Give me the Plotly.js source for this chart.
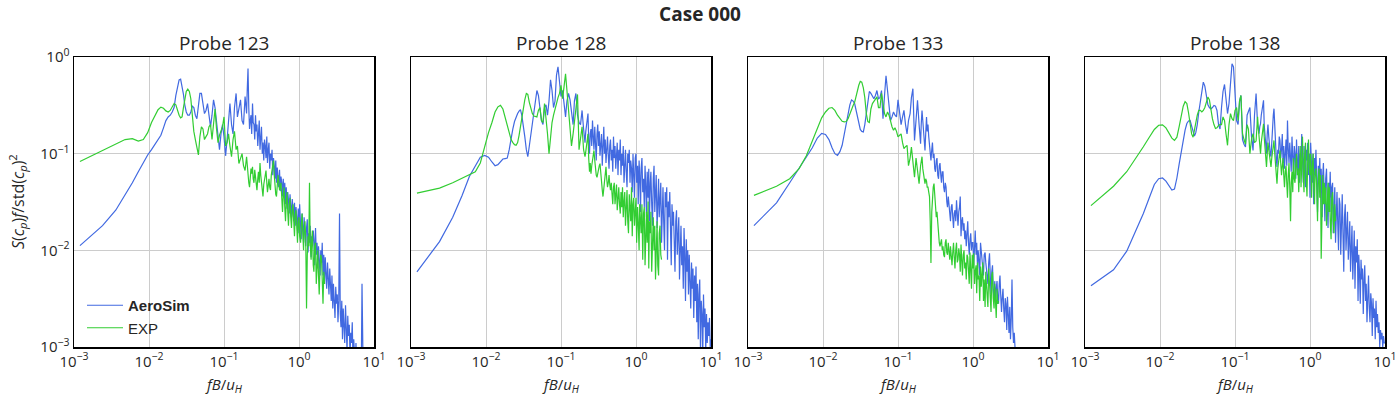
<!DOCTYPE html>
<html>
<head>
<meta charset="utf-8">
<script src="https://cdn.plot.ly/plotly-3.0.1.min.js"></script>
<style>html,body{margin:0;padding:0;background:#fff;}#chart{width:1400px;height:400px;}</style>
</head>
<body>
<div id="chart"></div>
<script>
// ---- data ----
const figTitle = 'Case 000';
const probeNames = ['Probe 123', 'Probe 128', 'Probe 133', 'Probe 138'];
const seriesNames = ['AeroSim', 'EXP'];
const xTickVals = [0.001, 0.01, 0.1, 1, 10];
const xTickText = ['10<sup>−3</sup>', '10<sup>−2</sup>', '10<sup>−1</sup>', '10<sup>0</sup>', '10<sup>1</sup>'];
const yTickVals = [0.001, 0.01, 0.1, 1];
const yTickText = ['10<sup>−3</sup>', '10<sup>−2</sup>', '10<sup>−1</sup>', '10<sup>0</sup>'];

// reduced frequency fB/u_H (shared by all probes)
const freq = [
  0.0012, 0.0024, 0.0036, 0.0048, 0.006, 0.0072, 0.0084, 0.0096, 0.0108, 0.012,
  0.0132, 0.0144, 0.0156, 0.0168, 0.018, 0.0192, 0.0204, 0.0216, 0.0228, 0.024,
  0.0252, 0.0264, 0.0276, 0.0288, 0.03, 0.0314, 0.0329, 0.0345, 0.0361, 0.0378,
  0.0396, 0.0415, 0.0435, 0.0456, 0.0477, 0.05, 0.0524, 0.0549, 0.0575, 0.0603,
  0.0631, 0.0661, 0.0692, 0.0725, 0.0759, 0.0795, 0.0832, 0.0871, 0.0912, 0.0955,
  0.1, 0.105, 0.11, 0.115, 0.12, 0.126, 0.132, 0.138, 0.145, 0.151,
  0.158, 0.166, 0.174, 0.182, 0.191,
  0.2, 0.204, 0.209, 0.214, 0.219, 0.224, 0.229, 0.234, 0.24, 0.245,
  0.251, 0.257, 0.263, 0.269, 0.275, 0.282, 0.288, 0.295, 0.302, 0.309,
  0.316, 0.324, 0.331, 0.339, 0.347, 0.355, 0.363, 0.372, 0.38, 0.389,
  0.398, 0.407, 0.417, 0.427, 0.437, 0.447, 0.457, 0.468, 0.479, 0.49,
  0.501, 0.513, 0.525, 0.537, 0.55, 0.562, 0.575, 0.589, 0.603, 0.617,
  0.631, 0.646, 0.661, 0.676, 0.692, 0.708, 0.724, 0.741, 0.759, 0.776,
  0.794, 0.813, 0.832, 0.851, 0.871, 0.891, 0.912, 0.933, 0.955, 0.977,
  1.0, 1.02, 1.05, 1.07, 1.1, 1.12, 1.15, 1.17, 1.2, 1.23,
  1.26, 1.29, 1.32, 1.35, 1.38, 1.41, 1.45, 1.48, 1.51, 1.55,
  1.58, 1.62, 1.66, 1.7, 1.74, 1.78, 1.82, 1.86, 1.91, 1.95,
  2.0, 2.04, 2.09, 2.14, 2.19, 2.24, 2.29, 2.34, 2.4, 2.45,
  2.51, 2.57, 2.63, 2.69, 2.75, 2.82, 2.88, 2.95, 3.02, 3.09,
  3.16, 3.24, 3.31, 3.39, 3.47, 3.55, 3.63, 3.72, 3.8, 3.89,
  3.98, 4.07, 4.17, 4.27, 4.37, 4.47, 4.57, 4.68, 4.79, 4.9,
  5.01, 5.13, 5.25, 5.37, 5.5, 5.62, 5.75, 5.89, 6.03, 6.17,
  6.31, 6.46, 6.61, 6.76, 6.92, 7.08, 7.24, 7.41, 7.59, 7.76,
  7.94, 8.13, 8.32, 8.51, 8.71, 8.91, 9.12, 9.33, 9.55, 9.77,
  10.0
];

// AeroSim spectra S(cp)f/std(cp)^2
const sim123 = [
  0.0112, 0.018, 0.026, 0.037, 0.05, 0.065, 0.082, 0.097, 0.11, 0.125,
  0.138, 0.155, 0.185, 0.22, 0.24, 0.25, 0.27, 0.3, 0.4, 0.5,
  0.58, 0.59, 0.5, 0.41, 0.32, 0.27, 0.25, 0.25, 0.27, 0.31,
  0.3, 0.25, 0.23, 0.3, 0.42, 0.42, 0.33, 0.26, 0.28, 0.33,
  0.25, 0.19, 0.25, 0.36, 0.3, 0.2, 0.15, 0.11, 0.16, 0.2,
  0.15, 0.095, 0.14, 0.24, 0.33, 0.2, 0.16, 0.3, 0.42, 0.24,
  0.3, 0.36, 0.22, 0.2, 0.39,
  0.26, 0.45, 0.76, 0.3, 0.18, 0.22, 0.25, 0.16, 0.33, 0.21,
  0.2, 0.14, 0.25, 0.17, 0.2, 0.12, 0.16, 0.22, 0.11, 0.15,
  0.19, 0.1, 0.13, 0.085, 0.14, 0.12, 0.09, 0.15, 0.08, 0.11,
  0.13, 0.07, 0.1, 0.085, 0.11, 0.06, 0.09, 0.075, 0.055, 0.085,
  0.05, 0.072, 0.06, 0.045, 0.068, 0.041, 0.058, 0.05, 0.036, 0.055,
  0.035, 0.05, 0.03, 0.045, 0.027, 0.04, 0.033, 0.024, 0.038, 0.028,
  0.022, 0.034, 0.026, 0.02, 0.031, 0.018, 0.028, 0.022, 0.016, 0.027,
  0.015, 0.03, 0.02, 0.013, 0.024, 0.018, 0.012, 0.022, 0.016, 0.011,
  0.017, 0.021, 0.0095, 0.015, 0.012, 0.018, 0.0085, 0.014, 0.011, 0.016,
  0.013, 0.007, 0.017, 0.009, 0.012, 0.0065, 0.011, 0.008, 0.0055, 0.01,
  0.0075, 0.012, 0.0055, 0.009, 0.0045, 0.0085, 0.0065, 0.004, 0.0075, 0.005,
  0.0035, 0.0065, 0.0045, 0.003, 0.0055, 0.0025, 0.0045, 0.0032, 0.002, 0.0042,
  0.0028, 0.0035, 0.0018, 0.003, 0.024, 0.0022, 0.0016, 0.003, 0.0012, 0.0025,
  0.0019, 0.0011, 0.0027, 0.0015, 0.0009, 0.0021, 0.0013, 0.0017, 0.0008, 0.0014,
  0.0011, 0.0018, 0.0007, 0.0012, 0.0009, 0.0006, 0.0011, 0.0005, 0.0009, 0.0004,
  0.0007, 0.0004, 0.0008, 0.0005, 0.0045, 0.0004, 0.0003, 0.0004, 0.0003, 0.0002,
  0.0003, 0.0002, 0.0002, 0.0003, 0.0002, 0.0002, 0.0002, 0.0002, 0.0002, 0.0002,
  0.0002
];
const sim128 = [
  0.006, 0.0123, 0.022, 0.037, 0.058, 0.076, 0.092, 0.096, 0.092, 0.082,
  0.075, 0.077, 0.082, 0.088, 0.089, 0.09, 0.11, 0.145, 0.18, 0.215,
  0.24, 0.26, 0.275, 0.285, 0.25, 0.2, 0.15, 0.11, 0.093, 0.12,
  0.16, 0.22, 0.29, 0.38, 0.45, 0.4, 0.27, 0.22, 0.2, 0.3,
  0.32, 0.25, 0.35, 0.58, 0.45, 0.3, 0.35, 0.65, 0.79, 0.5,
  0.39, 0.45, 0.33, 0.24, 0.35, 0.42, 0.36, 0.26, 0.2, 0.35,
  0.42, 0.25, 0.21, 0.2, 0.28,
  0.18, 0.15, 0.13, 0.17, 0.2, 0.24, 0.26, 0.14, 0.1, 0.16,
  0.18, 0.12, 0.22, 0.15, 0.11, 0.19, 0.14, 0.085, 0.16, 0.2,
  0.12, 0.17, 0.095, 0.13, 0.16, 0.075, 0.12, 0.19, 0.1, 0.14,
  0.08, 0.13, 0.15, 0.095, 0.07, 0.12, 0.14, 0.085, 0.11, 0.065,
  0.15, 0.09, 0.12, 0.07, 0.1, 0.13, 0.06, 0.11, 0.085, 0.14,
  0.06, 0.1, 0.075, 0.12, 0.05, 0.09, 0.11, 0.065, 0.045, 0.1,
  0.08, 0.11, 0.05, 0.085, 0.07, 0.04, 0.1, 0.06, 0.035, 0.09,
  0.1, 0.05, 0.075, 0.03, 0.085, 0.06, 0.025, 0.07, 0.09, 0.04,
  0.055, 0.028, 0.075, 0.045, 0.022, 0.065, 0.035, 0.07, 0.02, 0.05,
  0.065, 0.03, 0.018, 0.055, 0.075, 0.025, 0.045, 0.06, 0.017, 0.04,
  0.055, 0.022, 0.035, 0.05, 0.012, 0.03, 0.045, 0.02, 0.01, 0.04,
  0.028, 0.045, 0.008, 0.032, 0.022, 0.04, 0.012, 0.007, 0.03, 0.018,
  0.025, 0.01, 0.006, 0.02, 0.026, 0.009, 0.015, 0.022, 0.005, 0.014,
  0.018, 0.007, 0.011, 0.004, 0.017, 0.009, 0.003, 0.013, 0.006, 0.01,
  0.0035, 0.009, 0.005, 0.0025, 0.0075, 0.004, 0.0065, 0.002, 0.0055, 0.003,
  0.0068, 0.0018, 0.0045, 0.0012, 0.0035, 0.005, 0.0009, 0.003, 0.0022, 0.0008,
  0.0035, 0.0016, 0.0025, 0.0009, 0.0022, 0.0011, 0.0018, 0.0013, 0.002, 0.001,
  0.0012
];
const sim133 = [
  0.018, 0.031, 0.05, 0.07, 0.09, 0.115, 0.145, 0.162, 0.158, 0.14,
  0.115, 0.1, 0.096, 0.105, 0.122, 0.16, 0.21, 0.27, 0.32, 0.36,
  0.35, 0.33, 0.28, 0.24, 0.2, 0.178, 0.17, 0.168, 0.2, 0.27,
  0.36, 0.44, 0.42, 0.39, 0.37, 0.4, 0.45, 0.37, 0.38, 0.45,
  0.23, 0.4, 0.64, 0.45, 0.3, 0.22, 0.24, 0.27, 0.25, 0.24,
  0.36, 0.25, 0.2, 0.24, 0.28, 0.2, 0.16, 0.22, 0.26, 0.38,
  0.47, 0.137, 0.25, 0.356, 0.2,
  0.127, 0.2, 0.28, 0.22, 0.18, 0.13, 0.108, 0.16, 0.24, 0.17,
  0.2, 0.15, 0.12, 0.095, 0.085, 0.11, 0.13, 0.09, 0.1, 0.07,
  0.065, 0.085, 0.09, 0.06, 0.055, 0.075, 0.08, 0.06, 0.05, 0.065,
  0.065, 0.045, 0.04, 0.05, 0.045, 0.032, 0.028, 0.036, 0.03, 0.024,
  0.02, 0.028, 0.03, 0.022, 0.017, 0.024, 0.026, 0.02, 0.033, 0.024,
  0.018, 0.025, 0.028, 0.036, 0.014, 0.02, 0.022, 0.016, 0.019, 0.013,
  0.016, 0.011, 0.014, 0.02, 0.012, 0.009, 0.013, 0.015, 0.01, 0.012,
  0.012, 0.007, 0.011, 0.016, 0.009, 0.012, 0.0065, 0.01, 0.008, 0.0055,
  0.012, 0.0085, 0.008, 0.0065, 0.0055, 0.009, 0.0095, 0.0075, 0.006, 0.0045,
  0.0045, 0.0075, 0.0093, 0.0055, 0.0035, 0.006, 0.007, 0.004, 0.003, 0.0048,
  0.003, 0.004, 0.0048, 0.0032, 0.0028, 0.0045, 0.0055, 0.0035, 0.0023, 0.0032,
  0.004, 0.0025, 0.0018, 0.0032, 0.0028, 0.0015, 0.0033, 0.0022, 0.0014, 0.0026,
  0.0012, 0.002, 0.005, 0.0016, 0.0011, 0.0014, 0.0008, 0.0007, 0.0005, 0.0006,
  0.0005, 0.0004, 0.0006, 0.0003, 0.0004, 0.0003, 0.0003, 0.0002, 0.0003, 0.0002,
  0.0002, 0.0002, 0.0002, 0.0002, 0.0002, 0.0002, 0.0002, 0.0002, 0.0002, 0.0002,
  0.0002, 0.0002, 0.0002, 0.0002, 0.0002, 0.0002, 0.0002, 0.0002, 0.0002, 0.0002,
  0.0002, 0.0002, 0.0002, 0.0002, 0.0002, 0.0002, 0.0002, 0.0002, 0.0002, 0.0002,
  0.0002
];
const sim138 = [
  0.0043, 0.0063, 0.0098, 0.016, 0.024, 0.035, 0.048, 0.055, 0.056, 0.052,
  0.046, 0.042, 0.043, 0.056, 0.078, 0.105, 0.14, 0.175, 0.205, 0.218,
  0.22, 0.19, 0.165, 0.152, 0.165, 0.2, 0.27, 0.356, 0.46, 0.55,
  0.5, 0.4, 0.32, 0.3, 0.29, 0.3, 0.315, 0.31, 0.28, 0.2,
  0.18, 0.3, 0.44, 0.52, 0.35, 0.26, 0.33, 0.6, 0.85, 0.79,
  0.45, 0.22, 0.2, 0.35, 0.4, 0.14, 0.125, 0.117, 0.25, 0.28,
  0.3, 0.15, 0.108, 0.25, 0.418,
  0.2, 0.17, 0.161, 0.19, 0.204, 0.25, 0.28, 0.32, 0.356, 0.2,
  0.15, 0.12, 0.1, 0.16, 0.2, 0.15, 0.12, 0.1, 0.093, 0.14,
  0.2, 0.25, 0.292, 0.18, 0.12, 0.09, 0.073, 0.11, 0.1, 0.15,
  0.137, 0.09, 0.11, 0.16, 0.08, 0.12, 0.07, 0.1, 0.14, 0.075,
  0.22, 0.11, 0.08, 0.13, 0.1, 0.065, 0.15, 0.09, 0.06, 0.12,
  0.1, 0.055, 0.14, 0.08, 0.065, 0.12, 0.05, 0.1, 0.075, 0.16,
  0.09, 0.05, 0.12, 0.07, 0.045, 0.11, 0.085, 0.13, 0.06, 0.1,
  0.035, 0.13, 0.07, 0.05, 0.1, 0.03, 0.09, 0.06, 0.11, 0.045,
  0.025, 0.075, 0.05, 0.09, 0.04, 0.07, 0.022, 0.06, 0.08, 0.035,
  0.02, 0.055, 0.07, 0.03, 0.017, 0.05, 0.035, 0.065, 0.025, 0.045,
  0.05, 0.015, 0.035, 0.045, 0.012, 0.03, 0.04, 0.02, 0.01, 0.035,
  0.03, 0.009, 0.025, 0.038, 0.015, 0.006, 0.022, 0.03, 0.01, 0.018,
  0.025, 0.008, 0.015, 0.02, 0.006, 0.013, 0.018, 0.005, 0.012, 0.016,
  0.004, 0.011, 0.0075, 0.013, 0.003, 0.009, 0.006, 0.0028, 0.008, 0.005,
  0.0065, 0.0022, 0.005, 0.007, 0.003, 0.0045, 0.0018, 0.004, 0.0055, 0.0025,
  0.0018, 0.0036, 0.0028, 0.0013, 0.0032, 0.002, 0.0025, 0.0012, 0.003, 0.0016,
  0.0022, 0.0014, 0.0018, 0.001, 0.0015, 0.0012, 0.0014, 0.001, 0.0013, 0.0011,
  0.0011
];

// Experimental spectra (shorter frequency range)
const exp123 = [
  0.083, 0.108, 0.125, 0.14, 0.143, 0.135, 0.14, 0.165, 0.21, 0.25,
  0.285, 0.303, 0.295, 0.277, 0.27, 0.28, 0.31, 0.33, 0.32, 0.28,
  0.25, 0.235, 0.24, 0.3, 0.38, 0.44, 0.465, 0.44, 0.37, 0.24,
  0.17, 0.14, 0.11, 0.097, 0.15, 0.19, 0.18, 0.14, 0.15, 0.16,
  0.19, 0.2, 0.14, 0.2, 0.29, 0.18, 0.13, 0.155, 0.17, 0.19,
  0.24, 0.12, 0.13, 0.16, 0.12, 0.093, 0.14, 0.17, 0.11, 0.12,
  0.079, 0.09, 0.1, 0.075, 0.067,
  0.093, 0.075, 0.06, 0.05, 0.045, 0.058, 0.07, 0.062, 0.073, 0.055,
  0.05, 0.068, 0.06, 0.048, 0.042, 0.055, 0.065, 0.05, 0.08, 0.06,
  0.05, 0.042, 0.036, 0.048, 0.055, 0.062, 0.067, 0.05, 0.04, 0.047,
  0.055, 0.045, 0.042, 0.06, 0.07, 0.078, 0.085, 0.06, 0.045, 0.038,
  0.036, 0.048, 0.06, 0.052, 0.042, 0.046, 0.05, 0.035, 0.025, 0.038,
  0.045, 0.028, 0.02, 0.032, 0.04, 0.025, 0.018, 0.03, 0.035, 0.022,
  0.017, 0.026, 0.03, 0.02, 0.014, 0.024, 0.026, 0.018, 0.012, 0.02,
  0.022, 0.014, 0.012, 0.018, 0.024, 0.016, 0.01, 0.015, 0.02, 0.013,
  0.0025, 0.009, 0.014, 0.011, 0.05, 0.012, 0.008, 0.013, 0.016, 0.007,
  0.006, 0.011, 0.012, 0.0045, 0.008, 0.01, 0.0055, 0.0035, 0.007, 0.009,
  0.008, 0.005, 0.0028, 0.006, 0.0045
];
const exp128 = [
  0.039, 0.044, 0.05, 0.056, 0.06, 0.065, 0.08, 0.12, 0.165, 0.21,
  0.27, 0.305, 0.316, 0.29, 0.24, 0.195, 0.165, 0.14, 0.13, 0.124,
  0.122, 0.13, 0.155, 0.19, 0.24, 0.3, 0.36, 0.42, 0.41, 0.34,
  0.29, 0.26, 0.245, 0.24, 0.24, 0.28, 0.3, 0.22, 0.21, 0.33,
  0.24, 0.16, 0.1, 0.16, 0.21, 0.25, 0.3, 0.33, 0.38, 0.42,
  0.51, 0.37, 0.5, 0.67, 0.45, 0.3, 0.2, 0.12, 0.16, 0.21,
  0.3, 0.41, 0.11, 0.15, 0.19,
  0.11, 0.1, 0.093, 0.105, 0.12, 0.14, 0.16, 0.09, 0.065, 0.08,
  0.062, 0.075, 0.09, 0.1, 0.108, 0.085, 0.07, 0.06, 0.057, 0.065,
  0.07, 0.075, 0.079, 0.06, 0.05, 0.042, 0.036, 0.045, 0.055, 0.065,
  0.073, 0.055, 0.045, 0.05, 0.06, 0.048, 0.042, 0.05, 0.036, 0.03,
  0.045, 0.05, 0.03, 0.04, 0.048, 0.026, 0.035, 0.045, 0.03, 0.024,
  0.04, 0.028, 0.045, 0.022, 0.032, 0.04, 0.018, 0.03, 0.042, 0.02,
  0.015, 0.038, 0.025, 0.02, 0.045, 0.014, 0.03, 0.035, 0.018, 0.025,
  0.035, 0.012, 0.028, 0.02, 0.01, 0.03, 0.022, 0.015, 0.03, 0.008,
  0.024, 0.028, 0.007, 0.018, 0.025, 0.012, 0.032, 0.0065, 0.02, 0.015,
  0.025, 0.006, 0.014, 0.022, 0.01, 0.018, 0.005, 0.016, 0.02, 0.007,
  0.0055, 0.015, 0.018, 0.009, 0.008
];
const exp133 = [
  0.037, 0.046, 0.055, 0.07, 0.095, 0.135, 0.185, 0.235, 0.27, 0.295,
  0.3, 0.28, 0.25, 0.23, 0.216, 0.213, 0.215, 0.23, 0.26, 0.29,
  0.315, 0.34, 0.4, 0.455, 0.51, 0.56, 0.55, 0.48, 0.38, 0.26,
  0.215, 0.21, 0.29, 0.33, 0.345, 0.37, 0.386, 0.3, 0.3, 0.42,
  0.33, 0.26, 0.24, 0.27, 0.25, 0.215, 0.19, 0.175, 0.185, 0.17,
  0.149, 0.155, 0.16, 0.13, 0.113, 0.118, 0.122, 0.075, 0.09, 0.117,
  0.075, 0.057, 0.09, 0.07, 0.049,
  0.075, 0.085, 0.093, 0.07, 0.06, 0.05, 0.049, 0.055, 0.052, 0.045,
  0.045, 0.04, 0.036, 0.02, 0.0074, 0.025, 0.04, 0.045, 0.049, 0.035,
  0.03, 0.022, 0.025, 0.018, 0.014, 0.012, 0.011, 0.013, 0.013, 0.01,
  0.011, 0.009, 0.0085, 0.012, 0.013, 0.0095, 0.009, 0.012, 0.01, 0.008,
  0.011, 0.0075, 0.007, 0.0095, 0.012, 0.0085, 0.0065, 0.01, 0.012, 0.0075,
  0.008, 0.0105, 0.009, 0.006, 0.0115, 0.008, 0.0055, 0.009, 0.01, 0.0065,
  0.0075, 0.005, 0.009, 0.0085, 0.0055, 0.0045, 0.0095, 0.007, 0.004, 0.009,
  0.0065, 0.0093, 0.0045, 0.006, 0.007, 0.0036, 0.0075, 0.005, 0.0055, 0.003,
  0.0068, 0.0042, 0.0055, 0.0075, 0.003, 0.005, 0.0026, 0.006, 0.0045, 0.0035,
  0.0026, 0.0065, 0.0045, 0.0038, 0.0023, 0.0055, 0.006, 0.0032, 0.0025, 0.0045,
  0.0032, 0.002, 0.004, 0.0028, 0.003
];
const exp138 = [
  0.029, 0.046, 0.065, 0.09, 0.118, 0.148, 0.178, 0.197, 0.199, 0.185,
  0.162, 0.145, 0.137, 0.148, 0.19, 0.25, 0.31, 0.345, 0.33, 0.265,
  0.2, 0.16, 0.148, 0.175, 0.215, 0.25, 0.28, 0.28, 0.27, 0.28,
  0.3, 0.34, 0.385, 0.36, 0.28, 0.23, 0.2, 0.182, 0.185, 0.196,
  0.2, 0.2, 0.24, 0.22, 0.16, 0.122, 0.2, 0.26, 0.23, 0.22,
  0.28, 0.3, 0.22, 0.35, 0.4, 0.161, 0.14, 0.125, 0.2, 0.18,
  0.1, 0.14, 0.161, 0.13, 0.135,
  0.24, 0.19, 0.15, 0.12, 0.1, 0.13, 0.16, 0.18, 0.204, 0.15,
  0.12, 0.09, 0.073, 0.1, 0.13, 0.11, 0.1, 0.085, 0.073, 0.09,
  0.11, 0.125, 0.137, 0.1, 0.07, 0.055, 0.049, 0.07, 0.085, 0.095,
  0.108, 0.08, 0.06, 0.075, 0.09, 0.06, 0.045, 0.065, 0.075, 0.05,
  0.035, 0.06, 0.08, 0.045, 0.02, 0.05, 0.065, 0.04, 0.09, 0.055,
  0.05, 0.075, 0.1, 0.06, 0.07, 0.04, 0.09, 0.12, 0.045, 0.08,
  0.15, 0.06, 0.04, 0.1, 0.13, 0.055, 0.036, 0.09, 0.14, 0.07,
  0.06, 0.1, 0.035, 0.07, 0.1, 0.05, 0.03, 0.065, 0.07, 0.045,
  0.02, 0.055, 0.07, 0.035, 0.06, 0.0082, 0.04, 0.06, 0.03, 0.05,
  0.03, 0.045, 0.018, 0.04, 0.05, 0.025, 0.045, 0.02, 0.013, 0.035,
  0.04, 0.02, 0.015, 0.03, 0.02
];

const simSeries = [sim123, sim128, sim133, sim138];
const expSeries = [exp123, exp128, exp133, exp138];

// ---- layout helpers ----
const W = 1400, H = 400;
const panelLeft = [74, 411, 748, 1085];
const panelWidth = 300;
const plotTop = 57, plotBottom = 347;
const FONT = '"Open Sans", "DejaVu Sans", sans-serif';
const LEGFONT = '"Liberation Sans", Arial, sans-serif';
const TXT = '#262626';
const simColor = '#4169E1', expColor = '#32CD32';

const traces = [];
const layout = {
  width: W, height: H,
  margin: {l: 0, r: 0, t: 0, b: 0},
  paper_bgcolor: '#ffffff', plot_bgcolor: '#ffffff',
  font: {family: FONT, color: TXT, size: 15},
  title: {text: '<b>' + figTitle + '</b>', x: 0.5, xanchor: 'center', y: 1 - 14 / H, yanchor: 'middle',
          font: {family: FONT, size: 19, color: TXT}},
  showlegend: true,
  legend: {x: 82 / W, y: 1 - 289 / H, xanchor: 'left', yanchor: 'top', bgcolor: 'rgba(0,0,0,0)',
           itemwidth: 36, font: {family: LEGFONT, size: 15, color: TXT}, tracegroupgap: 0},
  annotations: []
};

for (let i = 0; i < 4; i++) {
  const sfx = i === 0 ? '' : String(i + 1);
  const xd = [panelLeft[i] / W, (panelLeft[i] + panelWidth) / W];
  traces.push({
    type: 'scatter', mode: 'lines', name: '<b>' + seriesNames[0] + '</b>',
    x: freq.slice(0, simSeries[i].length), y: simSeries[i],
    xaxis: 'x' + sfx, yaxis: 'y' + sfx,
    line: {color: simColor, width: 1.2}, showlegend: i === 0, legendgroup: 'sim'
  });
  traces.push({
    type: 'scatter', mode: 'lines', name: seriesNames[1],
    x: freq.slice(0, expSeries[i].length), y: expSeries[i],
    xaxis: 'x' + sfx, yaxis: 'y' + sfx,
    line: {color: expColor, width: 1.2}, showlegend: i === 0, legendgroup: 'exp'
  });
  layout['xaxis' + sfx] = {
    domain: xd, anchor: 'y' + sfx, type: 'log', range: [-3, 1],
    tickmode: 'array', tickvals: xTickVals, ticktext: xTickText, ticks: '',
    showgrid: true, gridcolor: '#cccccc', gridwidth: 1, zeroline: false,
    showline: true, linecolor: '#000000', linewidth: 1.5, mirror: true,
    tickfont: {family: FONT, size: 15, color: TXT}
  };
  layout['yaxis' + sfx] = {
    domain: [1 - plotBottom / H, 1 - plotTop / H], anchor: 'x' + sfx, type: 'log', range: [-3, 0],
    tickmode: 'array', tickvals: yTickVals, ticktext: yTickText, ticks: '',
    showticklabels: i === 0,
    showgrid: true, gridcolor: '#cccccc', gridwidth: 1, zeroline: false,
    showline: true, linecolor: '#000000', linewidth: 1.5, mirror: true,
    tickfont: {family: FONT, size: 15, color: TXT}
  };
  layout.annotations.push({
    text: probeNames[i], xref: 'paper', yref: 'paper',
    x: (xd[0] + xd[1]) / 2, y: 1 - 43 / H, xanchor: 'center', yanchor: 'middle',
    showarrow: false, font: {family: FONT, size: 19, color: TXT}
  });
  layout.annotations.push({
    text: '<i>fB</i>/<i>u</i><sub><i>H</i></sub>', xref: 'paper', yref: 'paper',
    x: (xd[0] + xd[1]) / 2, y: 1 - 385 / H, xanchor: 'center', yanchor: 'middle',
    showarrow: false, font: {family: FONT, size: 15, color: TXT}
  });
}
layout.annotations.push({
  text: '<i>S</i>(<i>c</i><sub><i>p</i></sub>)<i>f</i>/std(<i>c</i><sub><i>p</i></sub>)<sup>2</sup>',
  xref: 'paper', yref: 'paper', x: 17 / W, y: 1 - 202 / H, xanchor: 'center', yanchor: 'middle',
  textangle: -90, showarrow: false, font: {family: FONT, size: 16, color: TXT}
});

Plotly.newPlot('chart', traces, layout, {staticPlot: true, displayModeBar: false});
</script>
</body>
</html>
